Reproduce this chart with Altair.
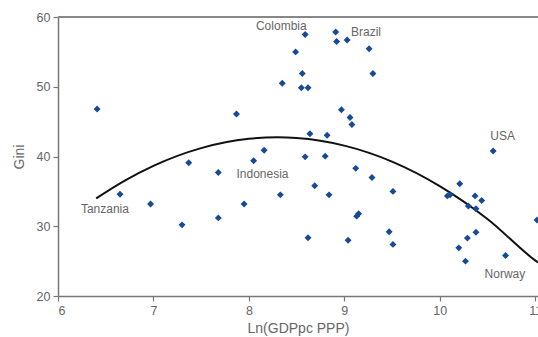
import altair as alt
import pandas as pd

# Scatter points
ln_gdp = [6.41, 7.87, 7.37, 7.68, 8.05, 6.65, 6.97, 7.95, 7.30, 7.68,
          8.59, 8.91, 8.92, 9.03, 9.26, 8.49, 9.30, 8.56, 8.35, 8.55, 8.62,
          8.97, 9.06, 9.08, 8.64, 8.82, 8.16, 8.59, 8.80, 9.12, 9.29,
          8.69, 8.84, 8.33, 9.15, 9.13, 8.62, 9.04, 9.47, 9.51, 9.51,
          10.21, 10.08, 10.11, 10.37, 10.44, 10.30, 10.38, 11.02, 10.38,
          10.29, 10.20, 10.27, 10.69, 10.56]
gini = [46.8, 46.1, 39.1, 37.7, 39.4, 34.6, 33.2, 33.2, 30.2, 31.2,
        57.5, 57.85, 56.5, 56.7, 55.45, 55.0, 51.9, 51.9, 50.5, 49.85, 49.85,
        46.7, 45.6, 44.6, 43.25, 43.05, 40.9, 39.95, 40.05, 38.3, 37.0,
        35.8, 34.5, 34.5, 31.8, 31.45, 28.35, 28.0, 29.2, 35.0, 27.4,
        36.1, 34.35, 34.5, 34.35, 33.7, 32.9, 32.5, 30.9, 29.15,
        28.3, 26.9, 25.0, 25.8, 40.8]

# Fitted curve
curve_x = [6.4, 6.7, 7.0, 7.5, 8.0, 8.3, 8.5, 9.0, 9.5, 10.0, 10.5, 11.0, 11.03]
curve_y = [34.0, 36.55, 38.66, 41.2, 42.53, 42.75, 42.65, 41.56, 39.27, 35.76, 31.04, 25.1, 24.8]

# Country labels
label_text = ["Colombia", "Brazil", "USA", "Indonesia", "Tanzania", "Norway"]
label_x = [8.34, 9.07, 10.53, 7.87, 6.24, 10.47]
label_y = [58.75, 57.9, 42.96, 37.47, 32.44, 23.2]
label_align = ["center", "left", "left", "left", "left", "left"]

pts = pd.DataFrame({"x": ln_gdp, "y": gini})
crv = pd.DataFrame({"x": curve_x, "y": curve_y})
lab = pd.DataFrame({"x": label_x, "y": label_y, "t": label_text, "a": label_align})

GRAY = "#666666"
FONT = "Liberation Sans"

xs = alt.Scale(domain=[6, 11.03], nice=False, zero=False)
ys = alt.Scale(domain=[20, 60], nice=False, zero=False)

xax = alt.Axis(values=[6, 7, 8, 9, 10, 11], format="d", title="Ln(GDPpc PPP)", grid=False,
               tickSize=5, labelPadding=3, titlePadding=5)
yax = alt.Axis(values=[20, 25, 30, 35, 40, 45, 50, 55, 60], format="d", title="Gini", grid=False,
               tickSize=5, labelPadding=3, titlePadding=10)

top = alt.Chart(pd.DataFrame({"v": [60]})).mark_rule(color="#888888", strokeWidth=2).encode(
    y=alt.Y("v:Q", scale=ys, axis=yax)
)

line = alt.Chart(crv).mark_line(color="#111111", strokeWidth=2, interpolate="monotone").encode(
    x=alt.X("x:Q", scale=xs, axis=xax),
    y=alt.Y("y:Q", scale=ys, axis=yax),
)

points = alt.Chart(pts).mark_point(shape="diamond", filled=True, size=48,
                                   color="#164a96", opacity=1).encode(
    x=alt.X("x:Q", scale=xs, axis=xax),
    y=alt.Y("y:Q", scale=ys, axis=yax),
)

text_c = alt.Chart(lab[lab.a == "center"]).mark_text(
    align="center", baseline="middle", fontSize=12, font=FONT, color=GRAY
).encode(x="x:Q", y="y:Q", text="t:N")

text_l = alt.Chart(lab[lab.a == "left"]).mark_text(
    align="left", baseline="middle", fontSize=12, font=FONT, color=GRAY
).encode(x="x:Q", y="y:Q", text="t:N")

chart = alt.layer(top, line, points, text_c, text_l).properties(
    width=480, height=279,
    autosize=alt.AutoSizeParams(type="none"),
    padding={"left": 58, "top": 17, "right": 0, "bottom": 41},
).configure_view(stroke=None).configure_axis(
    domainColor="#777777", domainWidth=1.5, tickColor="#777777", tickWidth=1.2,
    labelColor=GRAY, labelFont=FONT, labelFontSize=12.5,
    titleColor=GRAY, titleFont=FONT, titleFontSize=14, titleFontWeight="normal",
)

chart.save("out.html", embed_options={"renderer": "svg", "actions": False})
